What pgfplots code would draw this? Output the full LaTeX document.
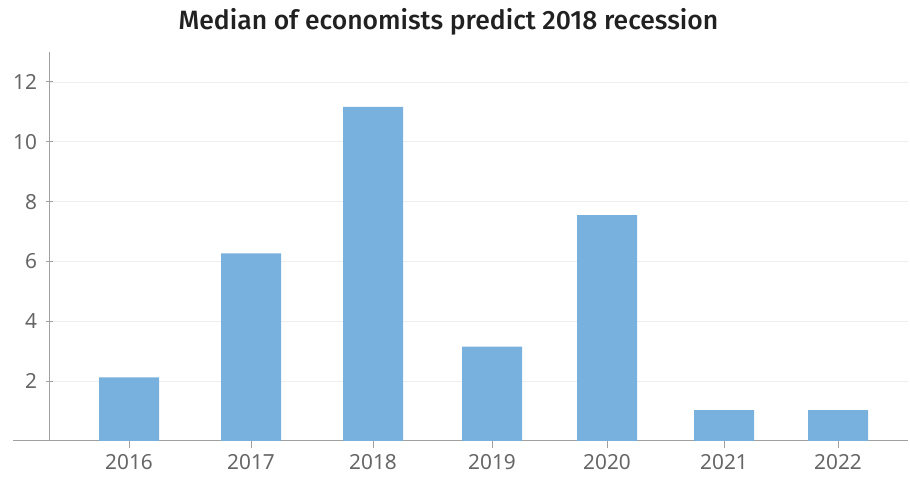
\documentclass[border=0pt]{standalone}
\usepackage{pgfplots}
\pgfplotsset{compat=1.18}
\usepackage{fontspec}
\setmainfont{Noto Sans}
\newfontfamily\titlefont{Fira Sans Medium}
\definecolor{barblue}{HTML}{78B1DE}
\definecolor{ticktext}{HTML}{666666}
\definecolor{axisgrey}{HTML}{A0A0A0}
\definecolor{gridgrey}{HTML}{EEEEEE}
\begin{document}
\begin{tikzpicture}[x=1pt,y=1pt]
\useasboundingbox (0,0) rectangle (910,481);
\begin{axis}[
  at={(49pt,40pt)}, anchor=south west,
  scale only axis, width=859pt, height=389pt,
  xmin=49, xmax=908, ymin=0, ymax=13,
  ybar, bar width=60pt,
  xtick={129,251,373,492,607,724,838},
  xticklabels={2016,2017,2018,2019,2020,2021,2022},
  ytick={2,4,6,8,10,12},
  axis x line*=bottom, axis y line*=left,
  axis line style={axisgrey, line width=1pt, -},
  x axis line style={shorten <=-36pt},
  ymajorgrids, grid style={gridgrey, line width=0.8pt},
  major tick length=7pt,
  xtick style={axisgrey, line width=1pt, yshift=-3.5pt},
  ytick style={axisgrey, line width=1pt, xshift=0pt},
  tick align=center,
  ticklabel style={font=\fontsize{20.8}{21}\selectfont, text=ticktext},
  xticklabel style={yshift=-6pt},
  yticklabel style={xshift=-5pt},
  /pgf/number format/assume math mode=true,
  title style={font=\titlefont\fontsize{26.5}{27}\selectfont, text=black!87, yshift=7pt, xshift=-30pt},
  title={Median of economists predict 2018 recession},
]
\addplot[fill=barblue, draw=none] coordinates {
  (129,2.13) (251,6.27) (373,11.17) (492,3.15) (607,7.55) (724,1.03) (838,1.03)
};
\end{axis}
\end{tikzpicture}
\end{document}
